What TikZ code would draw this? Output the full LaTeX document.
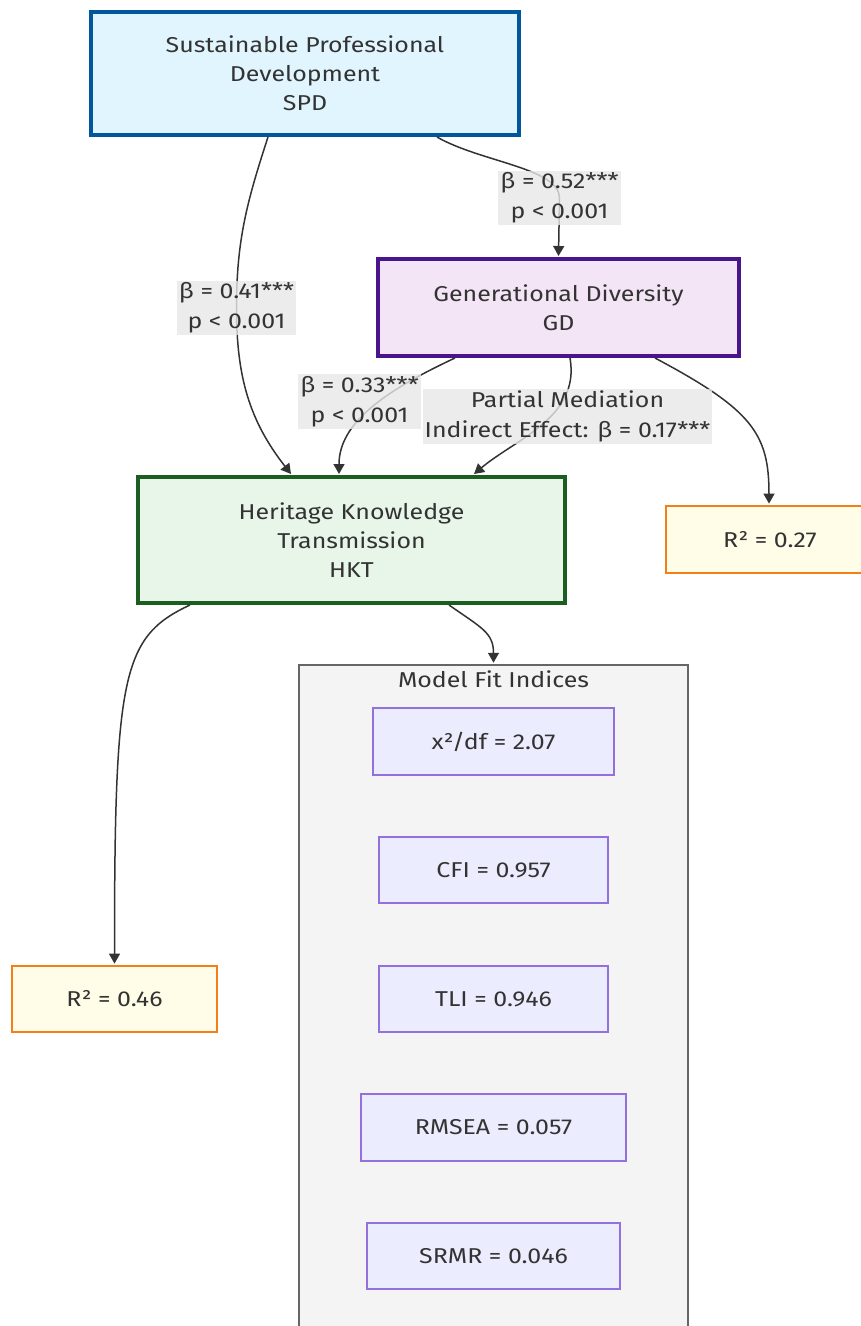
\documentclass[tikz,border=0pt]{standalone}
\usepackage{fontspec}
\setmainfont{Fira Sans}[FakeStretch=1.16]
\usetikzlibrary{arrows.meta}
\definecolor{spdfill}{HTML}{E1F5FE}
\definecolor{spdline}{HTML}{01579B}
\definecolor{gdfill}{HTML}{F3E5F5}
\definecolor{gdline}{HTML}{4A148C}
\definecolor{hktfill}{HTML}{E8F5E9}
\definecolor{hktline}{HTML}{1B5E20}
\definecolor{rfill}{HTML}{FFFDE7}
\definecolor{rline}{HTML}{F57F17}
\definecolor{fitfill}{HTML}{ECECFF}
\definecolor{fitline}{HTML}{9370DB}
\definecolor{clusterfill}{HTML}{F4F4F4}
\definecolor{clusterline}{HTML}{666666}
\definecolor{lblgray}{HTML}{E8E8E8}
\definecolor{textgray}{HTML}{333333}

\begin{document}
\begin{tikzpicture}[x=1pt,y=1pt,
		box/.style={draw, align=center, text=textgray, inner sep=0pt, font=\fontsize{21.5}{29}\selectfont},
		fitbox/.style={box, fill=fitfill, draw=fitline, line width=1.3pt, minimum height=66pt},
		rbox/.style={box, fill=rfill, draw=rline, line width=2.8pt, minimum width=205pt, minimum height=66pt},
		edge/.style={draw=textgray, line width=1.5pt, -{Triangle[length=10pt,width=11pt]}},
		lbl/.style={fill=lblgray, fill opacity=0.8, text opacity=1, text=textgray, align=center, inner xsep=2pt, inner ysep=2pt, font=\fontsize{21.5}{30}\selectfont}]
		\useasboundingbox (0,0) rectangle (861,-1326);
		\fill[white] (0,0) rectangle (861,-1326);
		% cluster for the fit indices
		\node [draw=clusterline, fill=clusterfill, line width=2.5pt, minimum width=389pt, minimum height=680pt, inner sep=0pt] (fit) at (493.5,-1005) {};
		\node [text=textgray, font=\fontsize{21.5}{24}\selectfont, anchor=north] (fittitle) at ([yshift=-3pt]fit.north) {Model Fit Indices};
		% main constructs
		\node [box, fill=spdfill, draw=spdline, line width=4pt, minimum width=428pt, minimum height=123pt] (spd) at (305,-73.5) {Sustainable Professional\\Development\\SPD};
		\node [box, fill=gdfill, draw=gdline, line width=4pt, minimum width=361pt, minimum height=97pt] (gd) at (558.5,-307.5) {Generational Diversity\\GD};
		\node [box, fill=hktfill, draw=hktline, line width=4pt, minimum width=427pt, minimum height=126pt] (hkt) at (351.5,-540) {Heritage Knowledge\\Transmission\\HKT};
		\node [rbox, minimum width=208pt, minimum height=67pt] (r27) at (770,-539.5) {R² = 0.27};
		\node [rbox] (r46) at (114.5,-999) {R² = 0.46};
		% fit indices
		\node [fitbox, minimum width=241pt, minimum height=67pt] (chi) at (493.5,-741.5) {x²/df = 2.07};
		\node [fitbox, minimum width=229pt] (cfi) at (493.5,-870) {CFI = 0.957};
		\node [fitbox, minimum width=229pt] (tli) at (493.5,-999) {TLI = 0.946};
		\node [fitbox, minimum width=265pt, minimum height=67pt] (rmsea) at (493.5,-1127.5) {RMSEA = 0.057};
		\node [fitbox, minimum width=253pt] (srmr) at (493.5,-1256) {SRMR = 0.046};
		% label spots
		\coordinate (l52) at (559.5,-198);
		\coordinate (l41) at (236.5,-308);
		\coordinate (l33) at (359.5,-401.5);
		\coordinate (lmed) at (567.5,-416.5);
		% paths
		\draw [edge] ([xshift=132pt]spd.south) .. controls +(-30:50) and +(0,30) .. (l52) -- ([yshift=1pt]gd.north);
		\draw [edge] ([xshift=-37pt]spd.south) to[out=-108,in=90] (l41) to[out=-90,in=128] ([xshift=-60.5pt,yshift=1pt]hkt.north);
		\draw [edge] ([xshift=-103.5pt]gd.south) .. controls +(-155:80) and +(0,50) .. ([xshift=-12.5pt,yshift=1pt]hkt.north);
		\draw [edge] ([xshift=11.5pt]gd.south) .. controls +(-80:60) and +(40:55) .. ([xshift=122.5pt,yshift=1pt]hkt.north);
		\draw [edge] ([xshift=96.5pt]gd.south) .. controls +(-28:110) and +(0,70) .. ([xshift=-1pt,yshift=1pt]r27.north);
		\draw [edge] ([xshift=-161.5pt]hkt.south) .. controls +(-155:75) and +(0,290) .. ([yshift=1pt]r46.north);
		\draw [edge] ([xshift=97.5pt]hkt.south) .. controls +(-35:40) and +(0,30) .. ([yshift=1pt]fit.north);
		% edge labels
		\node [lbl] (t52) at (l52) {β = 0.52***\\p < 0.001};
		\node [lbl] (t41) at (l41) {β = 0.41***\\p < 0.001};
		\node [lbl] (t33) at (l33) {β = 0.33***\\p < 0.001};
		\node [lbl] (tmed) at (lmed) {Partial Mediation\\Indirect Effect: β = 0.17***};
	\end{tikzpicture}
\end{document}
